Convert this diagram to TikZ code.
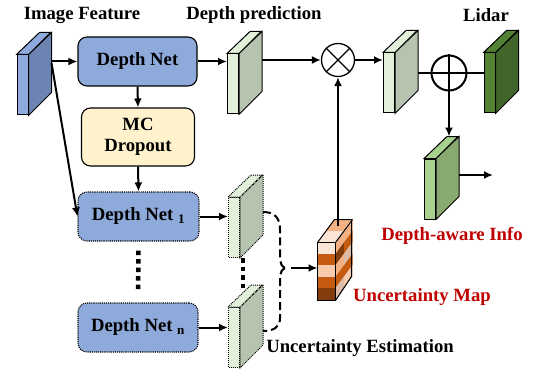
\documentclass[tikz,border=0pt]{standalone}
\usepackage{fontspec}
\setmainfont{Liberation Serif}
\usetikzlibrary{arrows.meta, calc, positioning}

\definecolor{netblue}{HTML}{8EAADB}
\definecolor{mcyellow}{HTML}{FFF2CC}
\definecolor{featfront}{HTML}{8FAADC}
\definecolor{featside}{HTML}{6D84B2}
\definecolor{dpfront}{HTML}{E2EFD9}
\definecolor{dpside}{HTML}{B6C3AE}
\definecolor{lidarfront}{HTML}{548235}
\definecolor{lidarside}{HTML}{41652A}
\definecolor{infofront}{HTML}{A9D18E}
\definecolor{infoside}{HTML}{88AA70}
\definecolor{labelred}{HTML}{C00000}
\definecolor{umA}{HTML}{FBE5D6}
\definecolor{umB}{HTML}{F8CBAD}
\definecolor{umC}{HTML}{F4B183}
\definecolor{umD}{HTML}{C55A11}
\definecolor{umE}{HTML}{843C0C}
\definecolor{umF}{HTML}{DDBBA4}

% feature map block: [extra style]{name}{position}{front colour}{side colour}
\newcommand{\featmap}[5][]{%
  \node[fmap, fill=#4, #1] (#2) at #3 {};
  \filldraw[fill=#5, line width=1pt, #1] (#2.north east) -- ++(23,-22) -- ++(0,60) -- (#2.south east) -- cycle;
  \filldraw[fill=#4, line width=1pt, #1] (#2.north west) -- ++(23,-22) -- ++(11,0) -- (#2.north east) -- cycle;
  \coordinate (#2-r) at ($(#2.east)+(23,-22)$);
  \coordinate (#2-t) at ($(#2.north)+(23,-22)$);
}

\begin{document}
\begin{tikzpicture}[x=1pt, y=-1pt,
    net/.style={draw, rounded corners=9pt, fill=netblue, line width=1.1pt, inner sep=0pt, align=center, font=\bfseries\fontsize{18.7}{21}\selectfont},
    fmap/.style={draw, line width=1pt, minimum width=11pt, minimum height=60pt, inner sep=0pt},
    lbl/.style={font=\bfseries\fontsize{18.7}{21}\selectfont},
    op/.style={draw, circle, inner sep=0pt},
    arrow/.style={-{Latex[length=9pt,width=8pt]}, line width=2pt},
    dashbrace/.style={line width=2pt, dash pattern=on 8pt off 4pt},
    dotsq/.style={line width=4.5pt, dash pattern=on 4.5pt off 4pt}
]
    \useasboundingbox (0,0) rectangle (536,369);

    % labels
    \node[lbl] (lblfeat) at (82,15) {Image Feature};
    \node[lbl] (lbldp) at (254,15) {Depth prediction};
    \node[lbl] (lbllidar) at (486,15) {Lidar};
    \node[lbl, text=labelred] (lblinfo) at (452,236) {Depth-aware Info};
    \node[lbl, text=labelred] (lblumap) at (422,297) {Uncertainty Map};
    \node[lbl] (lblest) at (360,348) {Uncertainty Estimation};

    % networks
    \node[net, minimum width=119pt, minimum height=49pt] (dn) at (137.5,61.5) {Depth Net};
    \node[net, fill=mcyellow, minimum width=113pt, minimum height=58pt] (mc) at (138,137) {MC\\Dropout};
    \node[net, densely dotted, minimum width=121pt, minimum height=49pt] (dn1) at (138.5,216.5) {Depth Net \textsubscript{1}};
    \node[net, densely dotted, minimum width=120pt, minimum height=49pt] (dnn) at (138,327.5) {Depth Net \textsubscript{n}};

    % feature maps
    \featmap{feat}{(22.5,85)}{featfront}{featside}
    \featmap{dp}{(233,84)}{dpfront}{dpside}
    \featmap{fused}{(389,83)}{dpfront}{dpside}
    \featmap{lidar}{(489.5,83)}{lidarfront}{lidarside}
    \featmap{info}{(430,189)}{infofront}{infoside}
    \featmap[densely dotted]{unc1}{(234,227.5)}{dpfront}{dpside}
    \featmap[densely dotted]{uncn}{(234,337.5)}{dpfront}{dpside}

    % uncertainty map
    \node[draw, line width=1pt, minimum width=17pt, minimum height=57pt, inner sep=0pt] (umap) at (326.5,271.5) {};
    \foreach \f/\s/\t [count=\r from 0] in {umA/umC/umC, umD/umE/umD, umB/umC/umF, umD/umD/umD, umE/umF/umB} {
      \fill[\f] ($(umap.north west)+(0,\r*11.4)$) rectangle ++(17,11.4);
      \fill[\s] ($(umap.north east)+(0,\r*11.4)$) -- ++(8.5,-11.5) -- ++(0,11.4) -- ++(-8.5,11.5) -- cycle;
      \fill[\t] ($(umap.north east)+(8.5,\r*11.4-11.5)$) -- ++(8.5,-11.5) -- ++(0,11.4) -- ++(-8.5,11.5) -- cycle;
    }
    \fill[umA] (umap.north west) -- ++(8.5,-11.5) -- ++(17,0) -- (umap.north east) -- cycle;
    \fill[umC] ($(umap.north west)+(8.5,-11.5)$) -- ++(8.5,-11.5) -- ++(17,0) -- ++(-8.5,11.5) -- cycle;
    \draw[line width=1pt] (umap.north west) rectangle (umap.south east);
    \draw[line width=1pt] (umap.north west) -- ++(17,-23) -- ++(17,0) -- ++(0,57) -- (umap.south east);
    \draw[line width=1pt] (umap.north east) -- ++(17,-23);
    \coordinate (umap-t) at ($(umap.north east)+(2,-17)$);

    % operators
    \node[op, line width=1.3pt, minimum size=33pt] (ot) at (338,60) {};
    \draw[line width=1.3pt] (ot.north west) -- (ot.south east);
    \draw[line width=1.3pt] (ot.north east) -- (ot.south west);
    \node[op, line width=2pt, minimum size=35pt] (pl) at (449,73) {};

    % connections
    \draw[arrow] (feat-r |- dn.west) -- (dn.west);
    \draw[arrow] (feat-r) -- (dn1.west);
    \draw[arrow] (dn.south) -- (mc.north);
    \draw[arrow] (mc.south) -- (dn1.north);
    \draw[arrow] (dn.east) -- (dn.east -| dp.west);
    \draw[arrow] (ot.west -| dp-r) -- (ot.west);
    \draw[arrow] (ot.east) -- (ot.east -| fused.west);
    \draw[line width=2pt] (pl.west -| fused-r) -- (pl.east -| lidar.west);
    \draw[line width=2pt] (pl.north) -- (pl.south);
    \draw[arrow] (pl.south) -- (pl |- info-t);
    \coordinate (out) at (493,175);
    \draw[arrow] (out -| info-r) -- (out);
    \draw[arrow] (dn1.east) -- (dn1.east -| unc1.west);
    \draw[arrow] (dnn.east) -- (dnn.east -| uncn.west);
    \draw[arrow] (ot.south |- umap-t) -- (ot.south);

    % dotted repetitions
    \draw[dotsq] ($(dn1.south)+(0,9)$) -- ($(dnn.north)+(0,-10)$);
    \draw[dotsq] ($(unc1.south east)+(3,0)$) -- ($(unc1.south east)+(3,30)$);

    % dashed brace
    \coordinate (brtip) at (291,268);
    \draw[dashbrace] (263,212) .. controls (275,212) and (280,218) .. (280,230) -- (280,256)
      .. controls (280,264) and (282,268) .. (287,268)
      .. controls (282,268) and (280,272) .. (280,280) -- (280,318)
      .. controls (280,326) and (275,331) .. (263,331);
    \draw[arrow] (brtip) -- (brtip -| umap.west);
\end{tikzpicture}
\end{document}
